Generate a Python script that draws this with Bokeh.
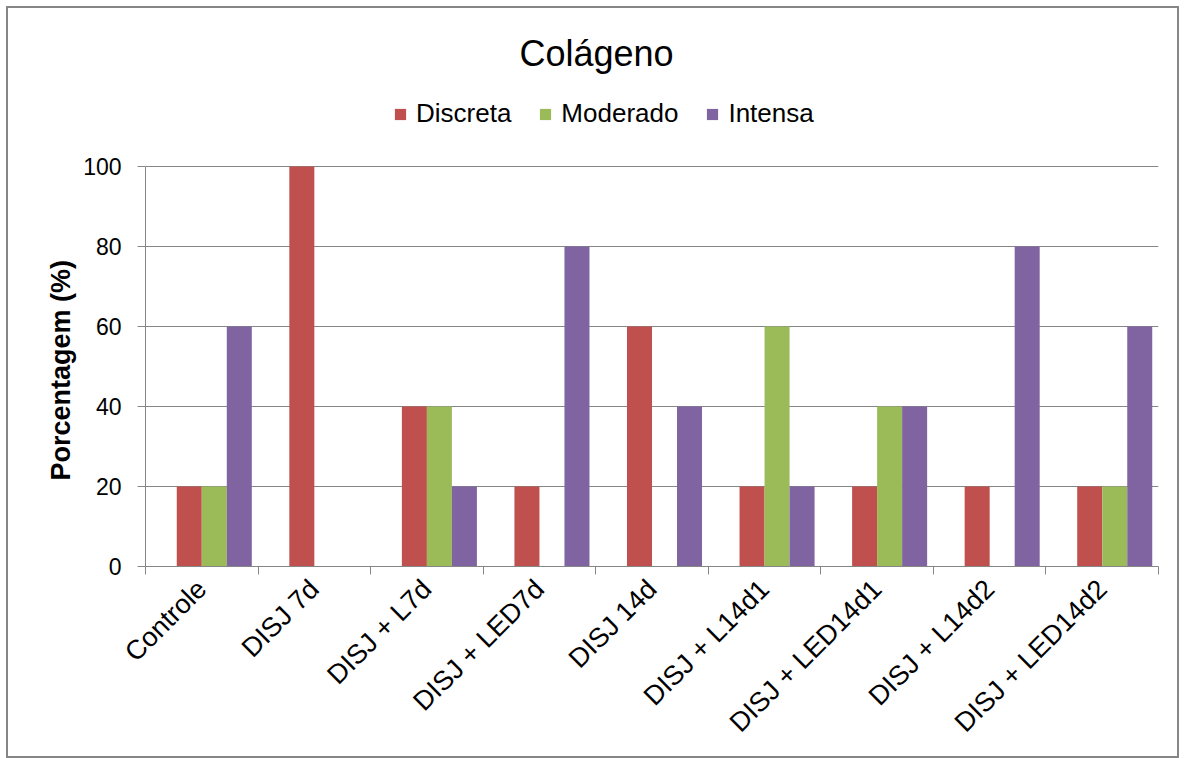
import numpy as np
from math import pi
from bokeh.plotting import figure
from bokeh.models import ColumnDataSource, Range1d, FixedTicker, Legend, LegendItem, Title
from bokeh.transform import dodge
from bokeh.embed import file_html
from bokeh.resources import INLINE

# Collagen scores per group (%)
categories = ["Controle", "DISJ 7d", "DISJ + L7d", "DISJ + LED7d", "DISJ 14d",
              "DISJ + L14d1", "DISJ + LED14d1", "DISJ + L14d2", "DISJ + LED14d2"]
discreta = [20, 100, 40, 20, 60, 20, 20, 20, 20]
moderado = [20, 0, 40, 0, 0, 60, 40, 0, 20]
intensa = [60, 0, 20, 80, 40, 20, 40, 80, 60]
y_ticks = [0, 20, 40, 60, 80, 100]

FONT = "Liberation Sans"
GRAY = "#868686"
RED, GREEN, PURPLE = "#C0504D", "#9BBB59", "#8064A2"

n = len(categories)
idx = np.arange(n)
source = ColumnDataSource(dict(idx=idx, discreta=discreta, moderado=moderado, intensa=intensa))

# the frame reaches up to the legend row; the value axis itself is bounded to 0..100
p = figure(width=1173, height=752, output_backend="svg", toolbar_location=None,
           x_range=Range1d(0, n), y_range=Range1d(0, 119),
           min_border_left=137, min_border_right=23, min_border_top=82, min_border_bottom=194,
           background_fill_color="white", border_fill_color="white")
p.margin = (6, 0, 0, 6)
p.styles = {"border": f"2px solid {GRAY}"}
p.outline_line_color = None

# bars: each category slot holds four bar widths plus a gap; the series use the last three
w = 2 / 9
r1 = p.vbar(x=dodge("idx", 7 / 18, range=p.x_range), top="discreta", width=w, bottom=0,
            source=source, fill_color=RED, line_color=None)
r2 = p.vbar(x=dodge("idx", 11 / 18, range=p.x_range), top="moderado", width=w, bottom=0,
            source=source, fill_color=GREEN, line_color=None)
r3 = p.vbar(x=dodge("idx", 15 / 18, range=p.x_range), top="intensa", width=w, bottom=0,
            source=source, fill_color=PURPLE, line_color=None)

# y axis
p.yaxis.ticker = FixedTicker(ticks=y_ticks)
p.yaxis.bounds = (0, 100)
p.yaxis.axis_line_color = GRAY
p.yaxis.major_tick_line_color = GRAY
p.yaxis.major_tick_out = 8
p.yaxis.major_tick_in = 0
p.yaxis.minor_tick_line_color = None
p.yaxis.major_label_text_font = FONT
p.yaxis.major_label_text_font_size = "23px"
p.yaxis.major_label_text_color = "black"
p.yaxis.major_label_standoff = 16

# axis title centred on the 0..100 span rather than on the whole frame
p.add_layout(Title(text="Porcentagem (%)", text_font=FONT, text_font_size="27px",
                   text_font_style="bold", text_color="black",
                   align="left", offset=86, standoff=9), "left")

p.ygrid.ticker = FixedTicker(ticks=y_ticks)
p.ygrid.grid_line_color = GRAY
p.xgrid.grid_line_color = None

# x axis: labels at slot centres, tick marks at slot boundaries
centres = [i + 0.5 for i in range(n)]
p.xaxis.ticker = FixedTicker(ticks=centres, minor_ticks=list(range(n + 1)))
p.xaxis.major_label_overrides = {c: lab for c, lab in zip(centres, categories)}
p.xaxis.major_tick_line_color = None
p.xaxis.minor_tick_line_color = GRAY
p.xaxis.minor_tick_out = 8
p.xaxis.minor_tick_in = 0
p.xaxis.axis_line_color = GRAY
p.xaxis.major_label_orientation = pi / 4
p.xaxis.major_label_text_font = FONT
p.xaxis.major_label_text_font_size = "27px"
p.xaxis.major_label_text_color = "black"
p.xaxis.major_label_standoff = 10

legend = Legend(items=[LegendItem(label="Discreta", renderers=[r1]),
                       LegendItem(label="Moderado", renderers=[r2]),
                       LegendItem(label="Intensa", renderers=[r3])],
                orientation="horizontal", location=(248, 437),
                padding=0, margin=0, spacing=27, label_standoff=9,
                glyph_width=14, glyph_height=14,
                label_text_font=FONT, label_text_font_size="26px",
                label_text_color="black",
                border_line_color=None, background_fill_alpha=0)
p.add_layout(legend, "center")

# title
p.title.text = "Colágeno"
p.title.text_font = FONT
p.title.text_font_size = "36px"
p.title.text_font_style = "normal"
p.title.text_color = "black"
p.title.align = "left"
p.title.offset = 374
p.title.standoff = 34

open("out.html", "w").write(file_html(p, INLINE))
